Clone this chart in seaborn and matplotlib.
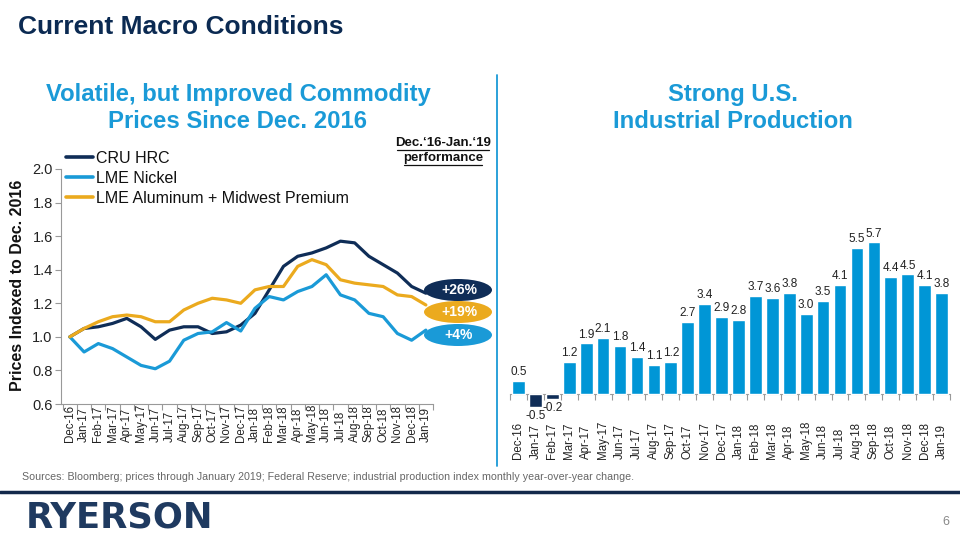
import matplotlib
matplotlib.use("Agg")
import matplotlib.pyplot as plt
from matplotlib.patches import Ellipse
from matplotlib.lines import Line2D
import seaborn as sns
import pandas as pd
import numpy as np

months = ["Dec-16", "Jan-17", "Feb-17", "Mar-17", "Apr-17", "May-17", "Jun-17", "Jul-17",
          "Aug-17", "Sep-17", "Oct-17", "Nov-17", "Dec-17", "Jan-18", "Feb-18", "Mar-18",
          "Apr-18", "May-18", "Jun-18", "Jul-18", "Aug-18", "Sep-18", "Oct-18", "Nov-18",
          "Dec-18", "Jan-19"]

cru_hrc = [1.00, 1.05, 1.06, 1.08, 1.11, 1.06, 0.985, 1.04, 1.06, 1.06, 1.02, 1.03, 1.07,
           1.14, 1.28, 1.42, 1.48, 1.50, 1.53, 1.57, 1.56, 1.48, 1.43, 1.38, 1.30, 1.26]
lme_nickel = [1.00, 0.91, 0.96, 0.93, 0.88, 0.83, 0.81, 0.855, 0.98, 1.02, 1.03, 1.085, 1.035,
              1.17, 1.24, 1.22, 1.27, 1.30, 1.37, 1.25, 1.22, 1.14, 1.12, 1.02, 0.98, 1.04]
lme_alum = [1.00, 1.05, 1.09, 1.12, 1.13, 1.12, 1.09, 1.09, 1.16, 1.20, 1.23, 1.22, 1.20,
            1.28, 1.30, 1.30, 1.42, 1.46, 1.43, 1.34, 1.32, 1.31, 1.30, 1.25, 1.24, 1.19]
series_names = ["CRU HRC", "LME Nickel", "LME Aluminum + Midwest Premium"]
perf_labels = ["+26%", "+19%", "+4%"]

ip_yoy = [0.5, -0.5, -0.2, 1.2, 1.9, 2.1, 1.8, 1.4, 1.1, 1.2, 2.7, 3.4, 2.9, 2.8, 3.7, 3.6,
          3.8, 3.0, 3.5, 4.1, 5.5, 5.7, 4.4, 4.5, 4.1, 3.8]

NAVY = "#0F2D57"
BLUE = "#1A9AD7"
GOLD = "#EBAA1E"
BARBLUE = "#0096D6"

sns.set_theme(style="white")
plt.rcParams["font.family"] = ["Liberation Sans", "DejaVu Sans"]

fig = plt.figure(figsize=(9.6, 5.4), dpi=100)
W, H = 960.0, 540.0

def fx(px):
    return px / W

def fy(py):
    return 1 - py / H

PX2PT = 72.0 / 100.0

# ---------- Left chart ----------
df = pd.DataFrame({
    "idx": list(range(len(months))) * 3,
    "value": cru_hrc + lme_nickel + lme_alum,
    "series": [series_names[0]] * len(months) + [series_names[1]] * len(months) + [series_names[2]] * len(months),
})
axL = fig.add_axes([fx(61), fy(404), fx(433 - 61), (404 - 169) / H])
sns.lineplot(data=df, x="idx", y="value", hue="series", hue_order=series_names,
             palette=[NAVY, BLUE, GOLD], linewidth=2.3, ax=axL, legend=False)
axL.set_xlim(-0.62, 25.38)
axL.set_ylim(0.6, 2.0)
axL.set_yticks(np.arange(0.6, 2.01, 0.2))
axL.set_yticklabels([f"{v:.1f}" for v in np.arange(0.6, 2.01, 0.2)], fontsize=10.5, color="#222222")
axL.set_xticks(range(len(months)))
axL.set_xticklabels(months, rotation=90, fontsize=8.3, color="#222222", va="bottom")
axL.set_xticks(np.arange(-0.5, len(months), 1.0), minor=True)
axL.tick_params(axis="x", which="major", length=0, pad=(442 - 404) * PX2PT)
axL.tick_params(axis="x", which="minor", length=4, color="#999999", width=0.8, bottom=True)
axL.tick_params(axis="y", length=4, color="#999999", width=0.8, left=True, pad=2)
for s in ["top", "right"]:
    axL.spines[s].set_visible(False)
for s in ["left", "bottom"]:
    axL.spines[s].set_color("#999999")
    axL.spines[s].set_linewidth(0.8)
axL.set_xlabel("")
axL.set_ylabel("")
fig.text(fx(18), fy(285), "Prices Indexed to Dec. 2016", rotation=90, ha="center", va="center",
         fontsize=11.5, fontweight="bold", color="#111111")

handles = [Line2D([0], [0], color=c, lw=2.6) for c in [NAVY, BLUE, GOLD]]
leg = fig.legend(handles, series_names, loc="upper left", bbox_to_anchor=(fx(66), fy(151)),
                 frameon=False, fontsize=11.5, handlelength=1.7, handletextpad=0.15,
                 labelspacing=0.3, borderaxespad=0, borderpad=0)
for t in leg.get_texts():
    t.set_color("#111111")

# performance badges
badge_y = [290, 312, 335]
for lab, col, y in zip(perf_labels, [NAVY, GOLD, BLUE], badge_y):
    e = Ellipse((fx(458), fy(y)), width=fx(68), height=22 / H, transform=fig.transFigure,
                facecolor=col, edgecolor="none")
    fig.add_artist(e)
    fig.text(fx(459), fy(y), lab, ha="center", va="center", color="white",
             fontsize=10, fontweight="bold")

fig.text(fx(443), fy(143), "Dec.\u201816-Jan.\u201819", ha="center", va="center",
         fontsize=9.5, fontweight="bold", color="#111111")
fig.text(fx(443), fy(158), "performance", ha="center", va="center",
         fontsize=9.5, fontweight="bold", color="#111111")
fig.add_artist(Line2D([fx(397), fx(489)], [fy(150), fy(150)], color="#111111", lw=0.9,
                      transform=fig.transFigure))
fig.add_artist(Line2D([fx(404), fx(482)], [fy(165), fy(165)], color="#111111", lw=0.9,
                      transform=fig.transFigure))

# ---------- Right chart ----------
dfb = pd.DataFrame({"month": months, "val": ip_yoy,
                    "sign": ["neg" if v < 0 else "pos" for v in ip_yoy]})
axR = fig.add_axes([fx(510), fy(410), fx(440), 190 / H])
sns.barplot(data=dfb, x="month", y="val", hue="sign", order=months, hue_order=["pos", "neg"],
            palette={"pos": BARBLUE, "neg": NAVY}, dodge=False, width=0.75, ax=axR,
            legend=False, saturation=1)
ymin, ymax = -0.6, 6.54
axR.set_ylim(ymin, ymax)
axR.set_xlim(-0.5, len(months) - 0.5)
for cont in axR.containers:
    labs = [f"{v:.1f}" if not np.isnan(v) else "" for v in cont.datavalues]
    axR.bar_label(cont, labels=labs, padding=2, fontsize=8.5, color="#222222")
axR.set_xticks(range(len(months)))
axR.set_xticklabels(months, rotation=90, fontsize=8.3, color="#222222", va="bottom")
axR.tick_params(axis="x", length=0, pad=(459 - 410) * PX2PT)
axR.set_yticks([])
for s in ["top", "right", "left", "bottom"]:
    axR.spines[s].set_visible(False)
axR.set_xlabel("")
axR.set_ylabel("")
sec = axR.secondary_xaxis((0 - ymin) / (ymax - ymin))
sec.set_xticks(np.arange(-0.5, len(months), 1.0))
sec.set_xticklabels([])
sec.tick_params(length=4, color="#999999", width=0.8, direction="out")
sec.spines["bottom"].set_color("#999999")
sec.spines["bottom"].set_linewidth(0.8)

# ---------- Page text ----------
fig.text(fx(18), fy(27), "Current Macro Conditions", ha="left", va="center",
         fontsize=19, fontweight="bold", color="#0B2A52")
fig.text(fx(238), fy(95), "Volatile, but Improved Commodity", ha="center", va="center",
         fontsize=17.2, fontweight="bold", color=BLUE)
fig.text(fx(238), fy(122), "Prices Since Dec. 2016", ha="center", va="center",
         fontsize=17.2, fontweight="bold", color=BLUE)
fig.text(fx(733), fy(95), "Strong U.S.", ha="center", va="center",
         fontsize=17.2, fontweight="bold", color=BLUE)
fig.text(fx(733), fy(122), "Industrial Production", ha="center", va="center",
         fontsize=17.2, fontweight="bold", color=BLUE)

fig.add_artist(Line2D([fx(497), fx(497)], [fy(75), fy(466)], color=BLUE, lw=1.3,
                      transform=fig.transFigure))

fig.text(fx(22), fy(477), "Sources: Bloomberg; prices through January 2019; Federal Reserve; "
         "industrial production index monthly year-over-year change.",
         ha="left", va="center", fontsize=7.7, color="#666666")
fig.add_artist(Line2D([0, 1], [fy(492), fy(492)], color="#13294B", lw=2.5,
                      transform=fig.transFigure))
fig.text(fx(26), fy(518), "RYERSON", ha="left", va="center", fontsize=25.5,
         fontweight="bold", color="#1F3A60", family=["DejaVu Sans"])
fig.text(fx(946), fy(522), "6", ha="center", va="center", fontsize=9, color="#888888")

fig.savefig("out.png", dpi=100)
